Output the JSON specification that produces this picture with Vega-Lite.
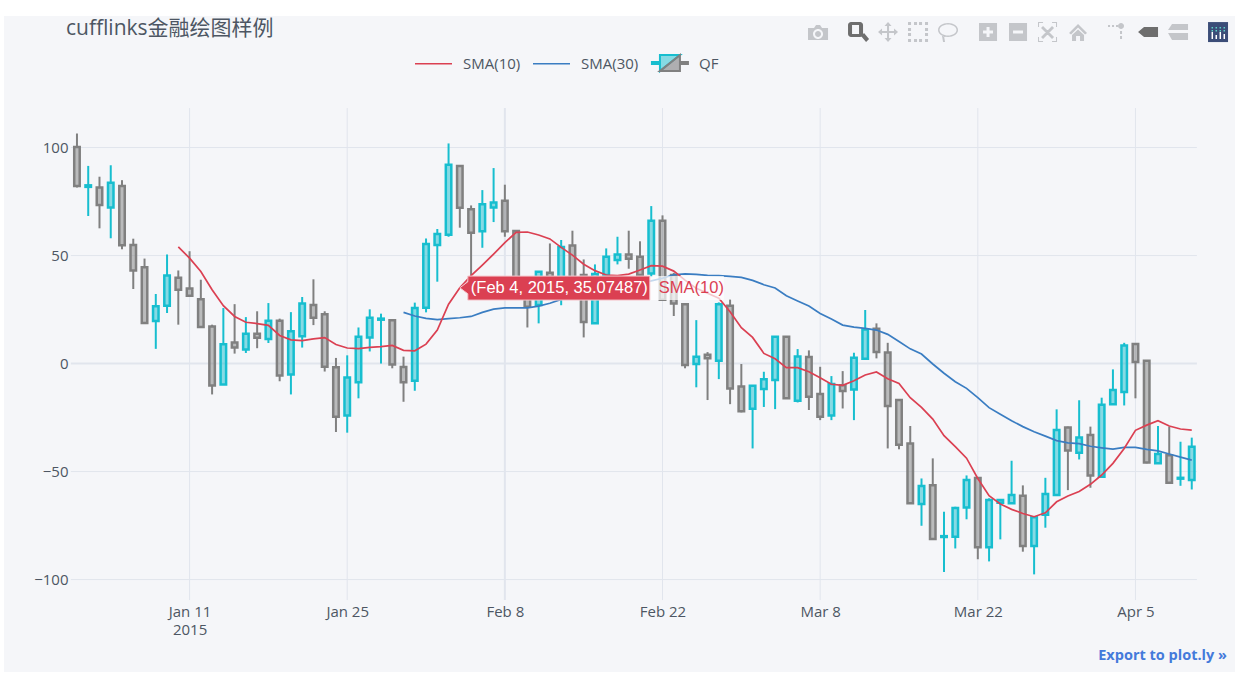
{
  "$schema": "https://vega.github.io/schema/vega-lite/v6.json",
  "width": 1231,
  "height": 656,
  "autosize": {"type": "none"},
  "padding": {"left": 4, "top": 16, "right": 18, "bottom": 12},
  "background": "white",
  "config": {
    "view": {"fill": "#F5F6F9", "stroke": null},
    "font": "Open Sans",
    "axis": {"grid": false, "ticks": false, "domain": false, "labelFont": "Open Sans", "labelFontSize": 15, "labelColor": "#4D5663", "title": null}
  },
  "title": {
    "text": "cufflinks金融绘图样例",
    "anchor": "start",
    "frame": "group",
    "dx": 62,
    "offset": -23,
    "font": "Open Sans, Noto Sans CJK SC",
    "fontSize": 21,
    "fontWeight": "normal",
    "color": "#4D5663"
  },
  "datasets": {
    "days": [
      {"date":"2015-01-01","low":81.5,"bottom":82.2,"top":100.3,"high":106.5,"dir":"down"},
      {"date":"2015-01-02","low":68.3,"bottom":81.8,"top":82.5,"high":91.5,"dir":"up"},
      {"date":"2015-01-03","low":62.6,"bottom":73.4,"top":81.5,"high":86.5,"dir":"down"},
      {"date":"2015-01-04","low":58,"bottom":72.3,"top":83.7,"high":91.8,"dir":"up"},
      {"date":"2015-01-05","low":52.9,"bottom":54.8,"top":82.2,"high":84.9,"dir":"down"},
      {"date":"2015-01-06","low":34.5,"bottom":43.1,"top":54.9,"high":57.8,"dir":"down"},
      {"date":"2015-01-07","low":18.8,"bottom":18.8,"top":44.6,"high":48.6,"dir":"down"},
      {"date":"2015-01-08","low":6.8,"bottom":19.7,"top":26.5,"high":32.2,"dir":"up"},
      {"date":"2015-01-09","low":23.4,"bottom":26.8,"top":40.8,"high":50.5,"dir":"up"},
      {"date":"2015-01-10","low":18,"bottom":34.2,"top":39.7,"high":43.1,"dir":"down","sma10":54},
      {"date":"2015-01-11","low":31.4,"bottom":31.4,"top":34.8,"high":52,"dir":"down","sma10":48.8},
      {"date":"2015-01-12","low":16.9,"bottom":16.9,"top":29.8,"high":38.8,"dir":"down","sma10":42.6},
      {"date":"2015-01-13","low":-14.3,"bottom":-10.2,"top":17.2,"high":18,"dir":"down","sma10":34.2},
      {"date":"2015-01-14","low":-9.7,"bottom":-9.7,"top":8.9,"high":25.7,"dir":"up","sma10":26.8},
      {"date":"2015-01-15","low":4.6,"bottom":7.4,"top":9.8,"high":27.5,"dir":"down","sma10":21.8},
      {"date":"2015-01-16","low":4.9,"bottom":6.5,"top":13.8,"high":21.5,"dir":"up","sma10":19.1},
      {"date":"2015-01-17","low":7.1,"bottom":12,"top":13.8,"high":24.2,"dir":"down","sma10":18.5},
      {"date":"2015-01-18","low":9.5,"bottom":11.4,"top":19.8,"high":28,"dir":"up","sma10":17.7},
      {"date":"2015-01-19","low":-8.2,"bottom":-5.5,"top":19.8,"high":20.8,"dir":"down","sma10":13},
      {"date":"2015-01-20","low":-14.3,"bottom":-5.1,"top":14.9,"high":23.8,"dir":"up","sma10":11},
      {"date":"2015-01-21","low":7.4,"bottom":12.6,"top":27.8,"high":30.8,"dir":"up","sma10":10.6},
      {"date":"2015-01-22","low":17.8,"bottom":21.2,"top":27.1,"high":39,"dir":"down","sma10":11.4},
      {"date":"2015-01-23","low":-3.7,"bottom":-1.5,"top":22.8,"high":24.2,"dir":"down","sma10":12},
      {"date":"2015-01-24","low":-31.7,"bottom":-24.6,"top":-1.7,"high":2.6,"dir":"down","sma10":8.8},
      {"date":"2015-01-25","low":-32,"bottom":-24,"top":-6.5,"high":3.8,"dir":"up","sma10":7.2},
      {"date":"2015-01-26","low":-16.1,"bottom":-8.7,"top":12.4,"high":16.7,"dir":"up","sma10":6.9},
      {"date":"2015-01-27","low":5.6,"bottom":12.1,"top":21.2,"high":25.1,"dir":"up","sma10":7.5},
      {"date":"2015-01-28","low":0,"bottom":20.3,"top":20.8,"high":23.1,"dir":"up","sma10":7.8},
      {"date":"2015-01-29","low":-2.2,"bottom":-0.4,"top":20,"high":20.1,"dir":"down","sma10":8.4},
      {"date":"2015-01-30","low":-17.7,"bottom":-8.7,"top":-1.6,"high":3.2,"dir":"down","sma10":6.1,"sma30":23.7},
      {"date":"2015-01-31","low":-12.6,"bottom":-8,"top":25.7,"high":28.2,"dir":"up","sma10":5.9,"sma30":22},
      {"date":"2015-02-01","low":23.7,"bottom":25.8,"top":55.3,"high":57.9,"dir":"up","sma10":9,"sma30":20.9},
      {"date":"2015-02-02","low":37.9,"bottom":54.9,"top":60,"high":62.3,"dir":"up","sma10":15.5,"sma30":20.3},
      {"date":"2015-02-03","low":58.7,"bottom":59.6,"top":92,"high":101.9,"dir":"up","sma10":27.5,"sma30":20.8},
      {"date":"2015-02-04","low":62.9,"bottom":72.1,"top":91.4,"high":91.7,"dir":"down","sma10":35.07,"sma30":21.2},
      {"date":"2015-02-05","low":39,"bottom":60.6,"top":71.4,"high":73.2,"dir":"down","sma10":40.7,"sma30":21.8},
      {"date":"2015-02-06","low":53.6,"bottom":61.3,"top":73.7,"high":80.3,"dir":"up","sma10":45.6,"sma30":23.7},
      {"date":"2015-02-07","low":65.5,"bottom":72.3,"top":74.6,"high":90.5,"dir":"up","sma10":50.7,"sma30":25.2},
      {"date":"2015-02-08","low":58.7,"bottom":61.2,"top":75.4,"high":82.8,"dir":"down","sma10":56,"sma30":25.8},
      {"date":"2015-02-09","low":31,"bottom":32,"top":61.4,"high":61.7,"dir":"down","sma10":60.7,"sma30":25.8},
      {"date":"2015-02-10","low":16.7,"bottom":26.3,"top":38,"high":39,"dir":"down","sma10":60.9,"sma30":25.8},
      {"date":"2015-02-11","low":18.6,"bottom":27.1,"top":42.5,"high":42.6,"dir":"up","sma10":59.5,"sma30":26.6},
      {"date":"2015-02-12","low":30,"bottom":33,"top":42,"high":55.6,"dir":"down","sma10":57.7,"sma30":27.9},
      {"date":"2015-02-13","low":27,"bottom":32,"top":54,"high":57.2,"dir":"up","sma10":53.8,"sma30":29.7},
      {"date":"2015-02-14","low":31,"bottom":33,"top":54.6,"high":61.5,"dir":"down","sma10":50.2,"sma30":31},
      {"date":"2015-02-15","low":12.1,"bottom":19.2,"top":41,"high":48.2,"dir":"down","sma10":46,"sma30":32.5},
      {"date":"2015-02-16","low":18.6,"bottom":18.6,"top":41.5,"high":45.9,"dir":"up","sma10":43,"sma30":33.8},
      {"date":"2015-02-17","low":39,"bottom":41,"top":49.5,"high":53.3,"dir":"up","sma10":41,"sma30":35},
      {"date":"2015-02-18","low":45.9,"bottom":47.9,"top":50.5,"high":58.7,"dir":"up","sma10":40.7,"sma30":36},
      {"date":"2015-02-19","low":43.9,"bottom":48.5,"top":50.5,"high":61.5,"dir":"down","sma10":41.4,"sma30":37},
      {"date":"2015-02-20","low":38,"bottom":41,"top":49.5,"high":56.6,"dir":"down","sma10":43.3,"sma30":37.7},
      {"date":"2015-02-21","low":40,"bottom":41.7,"top":66.1,"high":72.9,"dir":"up","sma10":45.3,"sma30":38.3},
      {"date":"2015-02-22","low":29,"bottom":29.5,"top":66.1,"high":68.6,"dir":"down","sma10":45.1,"sma30":39.5},
      {"date":"2015-02-23","low":22,"bottom":27.8,"top":41,"high":42,"dir":"down","sma10":42.8,"sma30":41.1},
      {"date":"2015-02-24","low":-2.2,"bottom":-0.7,"top":27.5,"high":27.7,"dir":"down","sma10":38.6,"sma30":41.5},
      {"date":"2015-02-25","low":-11,"bottom":-0.2,"top":3.2,"high":20.1,"dir":"up","sma10":34.8,"sma30":41.3},
      {"date":"2015-02-26","low":-16.9,"bottom":2.4,"top":4.1,"high":5.3,"dir":"down","sma10":32.5,"sma30":40.8},
      {"date":"2015-02-27","low":-7.2,"bottom":1.3,"top":27.4,"high":28.3,"dir":"up","sma10":30.2,"sma30":40.7},
      {"date":"2015-02-28","low":-18.8,"bottom":-11.5,"top":26.8,"high":29.6,"dir":"down","sma10":24,"sma30":40.4},
      {"date":"2015-03-01","low":-22.6,"bottom":-22.1,"top":-10.6,"high":-0.2,"dir":"down","sma10":16.6,"sma30":39.9},
      {"date":"2015-03-02","low":-39.3,"bottom":-20.9,"top":-10.3,"high":-10.3,"dir":"up","sma10":12.1,"sma30":38.5},
      {"date":"2015-03-03","low":-20.1,"bottom":-11.8,"top":-7.3,"high":-3.8,"dir":"up","sma10":4.7,"sma30":36.5},
      {"date":"2015-03-04","low":-21.1,"bottom":-7.6,"top":12.4,"high":12.7,"dir":"up","sma10":2.2,"sma30":35},
      {"date":"2015-03-05","low":-16.1,"bottom":-16.1,"top":12.4,"high":12.6,"dir":"down","sma10":-1.9,"sma30":31.4},
      {"date":"2015-03-06","low":-18,"bottom":-17.2,"top":3.3,"high":6.7,"dir":"up","sma10":-1.9,"sma30":29},
      {"date":"2015-03-07","low":-21.5,"bottom":-15.4,"top":3,"high":6.1,"dir":"down","sma10":-3.8,"sma30":26.6},
      {"date":"2015-03-08","low":-26.2,"bottom":-24.6,"top":-14.1,"high":-1.5,"dir":"down","sma10":-6.6,"sma30":23.2},
      {"date":"2015-03-09","low":-26.2,"bottom":-24,"top":-9.5,"high":-5.8,"dir":"up","sma10":-9.6,"sma30":20.6},
      {"date":"2015-03-10","low":-20.8,"bottom":-12.7,"top":-10,"high":-3.5,"dir":"down","sma10":-10.1,"sma30":17.8},
      {"date":"2015-03-11","low":-26.2,"bottom":-12,"top":2.7,"high":5,"dir":"up","sma10":-8,"sma30":16.9},
      {"date":"2015-03-12","low":2.2,"bottom":2.2,"top":15.8,"high":24.8,"dir":"up","sma10":-5.3,"sma30":16.3},
      {"date":"2015-03-13","low":2.4,"bottom":5.3,"top":16.1,"high":18.6,"dir":"down","sma10":-3.9,"sma30":15.5},
      {"date":"2015-03-14","low":-39.3,"bottom":-19.7,"top":5.1,"high":9.6,"dir":"down","sma10":-7,"sma30":13.5},
      {"date":"2015-03-15","low":-39.7,"bottom":-37.6,"top":-16.9,"high":-16.9,"dir":"down","sma10":-9.2,"sma30":10.2},
      {"date":"2015-03-16","low":-64.7,"bottom":-64.7,"top":-37,"high":-28.9,"dir":"down","sma10":-15.8,"sma30":6.8},
      {"date":"2015-03-17","low":-75.1,"bottom":-65,"top":-56.7,"high":-53.2,"dir":"up","sma10":-20.3,"sma30":4.4},
      {"date":"2015-03-18","low":-81.2,"bottom":-81.2,"top":-56.4,"high":-43.9,"dir":"down","sma10":-25.7,"sma30":-0.2},
      {"date":"2015-03-19","low":-96.5,"bottom":-80.3,"top":-79.9,"high":-68.6,"dir":"up","sma10":-33.4,"sma30":-4.5},
      {"date":"2015-03-20","low":-85.6,"bottom":-80.2,"top":-66.9,"high":-66.3,"dir":"up","sma10":-38.5,"sma30":-8.4},
      {"date":"2015-03-21","low":-72.1,"bottom":-66.7,"top":-53.9,"high":-51.8,"dir":"up","sma10":-43.8,"sma30":-11.5},
      {"date":"2015-03-22","low":-90.6,"bottom":-85.1,"top":-53,"high":-52.7,"dir":"down","sma10":-53.2,"sma30":-15.8},
      {"date":"2015-03-23","low":-91.6,"bottom":-85.1,"top":-63.2,"high":-62.4,"dir":"up","sma10":-61.2,"sma30":-20.4},
      {"date":"2015-03-24","low":-81.4,"bottom":-64.4,"top":-63.2,"high":-62.9,"dir":"up","sma10":-65,"sma30":-23.5},
      {"date":"2015-03-25","low":-64.7,"bottom":-64.7,"top":-60.9,"high":-45,"dir":"up","sma10":-67.5,"sma30":-26.5},
      {"date":"2015-03-26","low":-87.1,"bottom":-84.5,"top":-61.2,"high":-56.4,"dir":"down","sma10":-69.4,"sma30":-29.2},
      {"date":"2015-03-27","low":-97.6,"bottom":-84.5,"top":-71.2,"high":-70.9,"dir":"up","sma10":-70.9,"sma30":-31.6},
      {"date":"2015-03-28","low":-76,"bottom":-70,"top":-60.4,"high":-52.9,"dir":"up","sma10":-69.1,"sma30":-33.6},
      {"date":"2015-03-29","low":-60.9,"bottom":-60.9,"top":-30.8,"high":-21.2,"dir":"up","sma10":-64,"sma30":-35.7},
      {"date":"2015-03-30","low":-58.6,"bottom":-40.2,"top":-29.6,"high":-29.2,"dir":"down","sma10":-61.3,"sma30":-36.7},
      {"date":"2015-03-31","low":-44.4,"bottom":-41.3,"top":-34.2,"high":-17,"dir":"up","sma10":-59.2,"sma30":-37.1},
      {"date":"2015-04-01","low":-57.5,"bottom":-51.8,"top":-33.1,"high":-29.2,"dir":"down","sma10":-55.9,"sma30":-38.3},
      {"date":"2015-04-02","low":-52.4,"bottom":-52.4,"top":-19.1,"high":-15.8,"dir":"up","sma10":-51.6,"sma30":-39},
      {"date":"2015-04-03","low":-18.8,"bottom":-18.8,"top":-12.3,"high":-2.7,"dir":"up","sma10":-46.2,"sma30":-39.6},
      {"date":"2015-04-04","low":-19.4,"bottom":-13.2,"top":8.4,"high":9.6,"dir":"up","sma10":-39.3,"sma30":-38.8},
      {"date":"2015-04-05","low":-16.1,"bottom":0.7,"top":9,"high":9.2,"dir":"down","sma10":-30.9,"sma30":-38.8},
      {"date":"2015-04-06","low":-46.2,"bottom":-45.8,"top":1.3,"high":1.6,"dir":"down","sma10":-28.5,"sma30":-39.7},
      {"date":"2015-04-07","low":-46.5,"bottom":-46.2,"top":-41.9,"high":-28.9,"dir":"up","sma10":-26.5,"sma30":-40.4},
      {"date":"2015-04-08","low":-55.2,"bottom":-55.2,"top":-42.4,"high":-29.2,"dir":"down","sma10":-28.9,"sma30":-41.9},
      {"date":"2015-04-09","low":-56.6,"bottom":-53.3,"top":-52.9,"high":-36.2,"dir":"up","sma10":-30.3,"sma30":-43.3},
      {"date":"2015-04-10","low":-58.3,"bottom":-53.9,"top":-38.5,"high":-34.3,"dir":"up","sma10":-30.8,"sma30":-44.7}
    ],
    "hover": [{"date":"2015-02-04","value":35.07487,"label":"(Feb 4, 2015, 35.07487)","name":"SMA(10)"}],
    "anchor": [{"one":1}]
  },
  "layer": [
    {
      "data": {"values": [{"level":100},{"level":50},{"level":-50},{"level":-100}]},
      "mark": {"type": "rule", "color": "#E1E5ED", "strokeWidth": 1},
      "encoding": {
        "y": {
          "field": "level",
          "type": "quantitative",
          "scale": {"domain": [-142.8, 160.9], "nice": false, "zero": false},
          "axis": {"orient": "left", "offset": -67, "labelPadding": 3, "values": [100, 50, 0, -50, -100], "title": null}
        },
        "x": {
          "datum": {"year":2014,"month":12,"date":31,"hours":11,"utc":true},
          "type": "temporal",
          "scale": {
            "type": "utc",
            "nice": false,
            "padding": 0,
            "domain": [{"year":2014,"month":12,"date":25,"hours":12,"minutes":29,"utc":true},{"year":2015,"month":4,"date":13,"hours":20,"minutes":10,"utc":true}]
          },
          "axis": {
            "orient": "bottom",
            "offset": -72,
            "labelPadding": 4,
            "values": [{"year":2015,"month":1,"date":11,"utc":true},{"year":2015,"month":1,"date":25,"utc":true},{"year":2015,"month":2,"date":8,"utc":true},{"year":2015,"month":2,"date":22,"utc":true},{"year":2015,"month":3,"date":8,"utc":true},{"year":2015,"month":3,"date":22,"utc":true},{"year":2015,"month":4,"date":5,"utc":true}],
            "labelExpr": "utcFormat(datum.value,'%b %-d') == 'Jan 11' ? ['Jan 11','2015'] : utcFormat(datum.value,'%b %-d')",
            "labelLineHeight": 18,
            "labelFlush": false,
            "labelOverlap": false,
            "title": null
          }
        },
        "x2": {"datum": {"year":2015,"month":4,"date":10,"hours":11,"utc":true}}
      }
    },
    {
      "data": {"values": [{"level":0}]},
      "mark": {"type": "rule", "color": "#E1E5ED", "strokeWidth": 2},
      "encoding": {
        "y": {"field": "level", "type": "quantitative"},
        "x": {"datum": {"year":2014,"month":12,"date":31,"hours":11,"utc":true}, "type": "temporal"},
        "x2": {"datum": {"year":2015,"month":4,"date":10,"hours":11,"utc":true}}
      }
    },
    {
      "data": {"values": [{"date":"2015-01-11"},{"date":"2015-01-25"},{"date":"2015-02-22"},{"date":"2015-03-08"},{"date":"2015-03-22"},{"date":"2015-04-05"}]},
      "mark": {"type": "rule", "color": "#E1E5ED", "strokeWidth": 1},
      "encoding": {
        "x": {"field": "date", "type": "temporal"},
        "y": {"datum": 118.3},
        "y2": {"datum": -109.5}
      }
    },
    {
      "data": {"values": [{"date":"2015-02-08"}]},
      "mark": {"type": "rule", "color": "#E1E5ED", "strokeWidth": 2},
      "encoding": {
        "x": {"field": "date", "type": "temporal"},
        "y": {"datum": 118.3},
        "y2": {"datum": -109.5}
      }
    },
    {
      "data": {"name": "days"},
      "mark": {"type": "rule", "strokeWidth": 2},
      "encoding": {
        "x": {"field": "date", "type": "temporal"},
        "y": {"field": "low", "type": "quantitative"},
        "y2": {"field": "bottom"},
        "stroke": {"field": "dir", "type": "nominal", "scale": {"domain": ["up", "down"], "range": ["#17BECF", "#808080"]}, "legend": null}
      }
    },
    {
      "data": {"name": "days"},
      "mark": {"type": "rule", "strokeWidth": 2},
      "encoding": {
        "x": {"field": "date", "type": "temporal"},
        "y": {"field": "top", "type": "quantitative"},
        "y2": {"field": "high"},
        "stroke": {"field": "dir", "type": "nominal", "scale": {"domain": ["up", "down"], "range": ["#17BECF", "#808080"]}, "legend": null}
      }
    },
    {
      "data": {"name": "days"},
      "mark": {"type": "bar", "size": 5.5, "strokeWidth": 2.5, "fillOpacity": 0.5},
      "encoding": {
        "x": {"field": "date", "type": "temporal"},
        "y": {"field": "bottom", "type": "quantitative"},
        "y2": {"field": "top"},
        "stroke": {"field": "dir", "type": "nominal", "scale": {"domain": ["up", "down"], "range": ["#17BECF", "#808080"]}, "legend": null},
        "fill": {"field": "dir", "type": "nominal", "scale": {"domain": ["up", "down"], "range": ["#17BECF", "#808080"]}, "legend": null}
      }
    },
    {
      "data": {"name": "days"},
      "mark": {"type": "line", "strokeWidth": 1.7},
      "encoding": {
        "x": {"field": "date", "type": "temporal"},
        "y": {"field": "sma30", "type": "quantitative"},
        "color": {
          "datum": "SMA(30)",
          "type": "nominal",
          "scale": {"domain": ["SMA(10)", "SMA(30)", "QF"], "range": ["#DB4052", "#3A7DC2", "rgba(0,0,0,0)"]},
          "legend": {
            "title": null,
            "orient": "none",
            "direction": "horizontal",
            "columns": 3,
            "legendX": 410,
            "legendY": 28,
            "symbolType": "stroke",
            "symbolSize": 1369,
            "symbolStrokeWidth": 1.7,
            "labelFont": "Open Sans",
            "labelFontSize": 15,
            "labelColor": "#4D5663",
            "labelOffset": 10,
            "columnPadding": 8
          }
        }
      }
    },
    {
      "data": {"name": "days"},
      "mark": {"type": "line", "strokeWidth": 1.7},
      "encoding": {
        "x": {"field": "date", "type": "temporal"},
        "y": {"field": "sma10", "type": "quantitative"},
        "color": {"datum": "SMA(10)", "type": "nominal"}
      }
    },
    {
      "data": {"name": "hover"},
      "mark": {"type": "point", "shape": "M190,-11.7 L264,-11.7 L264,12.3 L190,12.3 Z", "size": 4, "filled": true, "fill": "white", "fillOpacity": 0.7, "strokeWidth": 0},
      "encoding": {"x": {"field": "date", "type": "temporal"}, "y": {"field": "value", "type": "quantitative"}}
    },
    {
      "data": {"name": "hover"},
      "mark": {"type": "point", "shape": "M0,0 L8,-6 L8,-11.7 L190,-11.7 L190,12.3 L8,12.3 L8,6 Z", "size": 4, "filled": true, "fill": "#DB4052", "fillOpacity": 1, "stroke": "#F5C6CC", "strokeWidth": 1},
      "encoding": {"x": {"field": "date", "type": "temporal"}, "y": {"field": "value", "type": "quantitative"}}
    },
    {
      "data": {"name": "hover"},
      "mark": {"type": "text", "align": "left", "dx": 11, "fontSize": 16.5, "color": "white", "font": "Liberation Sans"},
      "encoding": {"x": {"field": "date", "type": "temporal"}, "y": {"field": "value", "type": "quantitative"}, "text": {"field": "label"}}
    },
    {
      "data": {"name": "hover"},
      "mark": {"type": "text", "align": "left", "dx": 199, "fontSize": 16.5, "color": "#DB4052", "font": "Liberation Sans"},
      "encoding": {"x": {"field": "date", "type": "temporal"}, "y": {"field": "value", "type": "quantitative"}, "text": {"field": "name"}}
    },
    {
      "data": {"name": "anchor"},
      "mark": {"type": "point", "shape": "M-18,-1 L-10,-1 L-10,1 L-18,1 Z M-10,-8 L10,-8 L-10,8 Z", "size": 4, "filled": true, "fill": "#17BECF", "fillOpacity": 0.5, "stroke": "#17BECF", "strokeWidth": 2},
      "encoding": {
        "x": {"datum": {"year":2015,"month":2,"date":22,"hours":15,"minutes":50,"utc":true}, "type": "temporal"},
        "y": {"datum": 139.1}
      }
    },
    {
      "data": {"name": "anchor"},
      "mark": {"type": "point", "shape": "M10,-8 L10,8 L-10,8 Z M10,-1 L18,-1 L18,1 L10,1 Z", "size": 4, "filled": true, "fill": "#808080", "fillOpacity": 0.6, "stroke": "#808080", "strokeWidth": 2},
      "encoding": {
        "x": {"datum": {"year":2015,"month":2,"date":22,"hours":15,"minutes":50,"utc":true}, "type": "temporal"},
        "y": {"datum": 139.1}
      }
    },
    {
      "data": {"name": "anchor"},
      "mark": {"type": "point", "shape": "M-212,-5 L-206,-5 L-204,-8 L-200,-8 L-198,-5 L-192,-5 L-192,7 L-212,7 Z M-197,1 A5,5 0 1 0 -207,1 A5,5 0 1 0 -197,1 Z M-199,1 A3,3 0 1 1 -205,1 A3,3 0 1 1 -199,1 Z M-133,-7 h2 v12 h-2 Z M-138,-2 h12 v2 h-12 Z M-132,-11 l3.5,4 h-7 Z M-132,9 l-3.5,-4 h7 Z M-142,-1 l4,-3.5 v7 Z M-122,-1 l-4,3.5 v-7 Z M-112,-11h3v3h-3z M-106,-11h3v3h-3z M-101,-11h3v3h-3z M-95,-11h3v3h-3z M-112,6h3v3h-3z M-106,6h3v3h-3z M-101,6h3v3h-3z M-95,6h3v3h-3z M-112,-5h3v3h-3z M-112,0h3v3h-3z M-95,-5h3v3h-3z M-95,0h3v3h-3z M-62,-3 A10,7 0 1 0 -82,-3 A10,7 0 1 0 -62,-3 Z M-63.5,-3 A8.5,5.5 0 1 1 -80.5,-3 A8.5,5.5 0 1 1 -63.5,-3 Z M-78,3 h2 l1,6 h-2 Z M-41,-10 h18 v18 h-18 Z M-33.5,-6 v3.5 h-3.5 v3 h3.5 v3.5 h3 v-3.5 h3.5 v-3 h-3.5 v-3.5 Z M-11,-10 h18 v18 h-18 Z M-7,-2.5 v3 h10 v-3 Z M18,-11 h5 v1 h-4 v4 h-1 Z M37,-11 v5 h-1 v-4 h-4 v-1 Z M18,9 v-5 h1 v4 h4 v1 Z M37,9 h-5 v-1 h4 v-4 h1 Z M23,-7 L34,4 L32,6 L21,-5 Z M32,-7 L34,-5 L23,6 L21,4 Z M58,-9 L67,0 L65,1.5 L58,-5.5 L51,1.5 L49,0 Z M52,2 L58,-3.5 L64,2 V8 H60 V3 H56 V8 H52 Z M88,-8h2v2h-2z M92,-8h2v2h-2z M96,-8h2v2h-2z M104,-7 A3,3 0 1 1 98,-7 A3,3 0 1 1 104,-7 Z M100,-2h2v3h-2z M100,3h2v3h-2z M152,-9 H168 V-3 H148 Z M148,0 H168 V7 H152 Z", "size": 4, "filled": true, "fill": "#C4C6CA", "fillOpacity": 1, "strokeWidth": 0},
      "encoding": {
        "x": {"datum": {"year":2015,"month":3,"date":25,"hours":18,"utc":true}, "type": "temporal"},
        "y": {"datum": 153}
      }
    },
    {
      "data": {"name": "anchor"},
      "mark": {"type": "point", "shape": "M-169,-11 h9 a3,3 0 0 1 3,3 v9 a3,3 0 0 1 -3,3 h-9 a3,3 0 0 1 -3,-3 v-9 a3,3 0 0 1 3,-3 Z M-168,-8 v9 h7 v-9 Z M-159,3 L-156,0 L-151,6 L-154,9 Z M118,-1 L124,-6 H138 V4 H124 Z", "size": 4, "filled": true, "fill": "#6E6E6E", "fillOpacity": 1, "strokeWidth": 0},
      "encoding": {
        "x": {"datum": {"year":2015,"month":3,"date":25,"hours":18,"utc":true}, "type": "temporal"},
        "y": {"datum": 153}
      }
    },
    {
      "data": {"name": "anchor"},
      "mark": {"type": "point", "shape": "M188,-11 h20 v20 h-20 Z", "size": 4, "filled": true, "fill": "#3B4D78", "fillOpacity": 1, "strokeWidth": 0},
      "encoding": {
        "x": {"datum": {"year":2015,"month":3,"date":25,"hours":18,"utc":true}, "type": "temporal"},
        "y": {"datum": 153}
      }
    },
    {
      "data": {"name": "anchor"},
      "mark": {"type": "point", "shape": "M191.5,-1 h1.5 v7 h-1.5 Z M195.5,2 h1.5 v4 h-1.5 Z M199.5,-1 h1.5 v7 h-1.5 Z M203.5,1 h1.5 v5 h-1.5 Z", "size": 4, "filled": true, "fill": "white", "fillOpacity": 1, "strokeWidth": 0},
      "encoding": {
        "x": {"datum": {"year":2015,"month":3,"date":25,"hours":18,"utc":true}, "type": "temporal"},
        "y": {"datum": 153}
      }
    },
    {
      "data": {"name": "anchor"},
      "mark": {"type": "point", "shape": "M191.5,-6 h1.5 v1.5 h-1.5 Z M195.5,-6 h1.5 v1.5 h-1.5 Z M199.5,-6 h1.5 v1.5 h-1.5 Z M203.5,-6 h1.5 v1.5 h-1.5 Z M191.5,-3 h1.5 v1.5 h-1.5 Z M195.5,-3 h1.5 v1.5 h-1.5 Z M199.5,-3 h1.5 v1.5 h-1.5 Z M203.5,-3 h1.5 v1.5 h-1.5 Z", "size": 4, "filled": true, "fill": "#5FD3C8", "fillOpacity": 1, "strokeWidth": 0},
      "encoding": {
        "x": {"datum": {"year":2015,"month":3,"date":25,"hours":18,"utc":true}, "type": "temporal"},
        "y": {"datum": 153}
      }
    },
    {
      "data": {"name": "anchor"},
      "mark": {"type": "text", "text": "Export to plot.ly »", "align": "right", "fontSize": 14.5, "fontWeight": "bold", "color": "#447ADB", "font": "Open Sans"},
      "encoding": {
        "x": {"datum": {"year":2015,"month":4,"date":13,"hours":3,"utc":true}, "type": "temporal"},
        "y": {"datum": -135.4}
      }
    }
  ]
}
